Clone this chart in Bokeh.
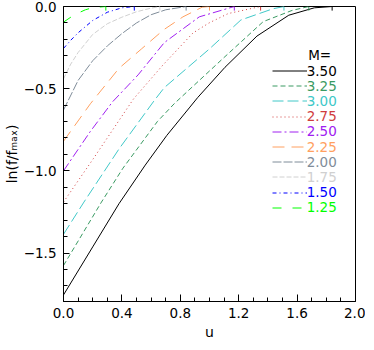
from bokeh.plotting import figure
from bokeh.models import (Range1d, FixedTicker, Legend, LegendItem, Label,
                          CustomJSTickFormatter)
from bokeh.embed import file_html
from bokeh.resources import INLINE

# ---------------- data ----------------
M_labels = ["3.50", "3.25", "3.00", "2.75", "2.50", "2.25", "2.00", "1.75", "1.50", "1.25"]
u_peak = [1.84, 1.68, 1.51, 1.35, 1.17, 1.00, 0.84, 0.66, 0.485, 0.29]

u_M350 = [0, 0.2, 0.38, 0.56, 0.708, 0.866, 0.92, 1.106, 1.325, 1.543, 1.718, 1.84]
y_M350 = [-1.755, -1.463, -1.2, -0.965, -0.784, -0.612, -0.553, -0.37, -0.18, -0.053, -0.008, 0.0]
u_M325 = [0, 0.26, 0.407, 0.643, 0.76, 1.106, 1.368, 1.565, 1.68]
y_M325 = [-1.576, -1.19, -0.984, -0.70, -0.59, -0.305, -0.092, -0.024, 0.0]
u_M300 = [0, 0.14, 0.38, 0.621, 0.69, 0.997, 1.215, 1.434, 1.51]
y_M300 = [-1.386, -1.19, -0.867, -0.573, -0.494, -0.26, -0.082, -0.014, 0.0]
u_M275 = [0, 0.205, 0.479, 0.68, 0.887, 0.997, 1.128, 1.35]
y_M275 = [-1.19, -0.925, -0.563, -0.357, -0.161, -0.10, -0.043, 0.0]
u_M250 = [0, 0.184, 0.336, 0.511, 0.69, 0.93, 1.17]
y_M250 = [-1.0, -0.76, -0.58, -0.416, -0.22, -0.063, 0.0]
u_M225 = [0, 0.184, 0.38, 0.533, 0.687, 0.818, 0.95, 1.0]
y_M225 = [-0.82, -0.592, -0.376, -0.259, -0.141, -0.063, -0.004, 0.0]
u_M200 = [0, 0.1, 0.2, 0.3, 0.4, 0.5, 0.6, 0.7, 0.84]
y_M200 = [-0.63, -0.45, -0.33, -0.24, -0.165, -0.10, -0.05, -0.02, 0.0]
u_M175 = [0, 0.05, 0.1, 0.2, 0.3, 0.4, 0.5, 0.6, 0.66]
y_M175 = [-0.44, -0.35, -0.28, -0.17, -0.105, -0.065, -0.032, -0.01, 0.0]
u_M150 = [0, 0.05, 0.1, 0.2, 0.3, 0.4, 0.485]
y_M150 = [-0.255, -0.205, -0.16, -0.085, -0.035, -0.008, 0.0]
u_M125 = [0, 0.05, 0.1, 0.15, 0.2, 0.29]
y_M125 = [-0.095, -0.065, -0.04, -0.02, -0.007, 0.0]

x_major_ticks = [0.0, 0.4, 0.8, 1.2, 1.6, 2.0]
x_minor_ticks = [0.1, 0.2, 0.3, 0.5, 0.6, 0.7, 0.9, 1.0, 1.1, 1.3, 1.4, 1.5, 1.7, 1.8, 1.9]
y_major_ticks = [-1.5, -1.0, -0.5, 0.0]
y_minor_ticks = [-1.7, -1.6, -1.4, -1.3, -1.2, -1.1, -0.9, -0.8, -0.7, -0.6, -0.4, -0.3, -0.2, -0.1]

# ---------------- styles ----------------
colors = ["#000000", "#3a9a62", "#40c8c8", "#d03c3c", "#a020f0",
          "#ffa060", "#7f8c99", "#d0d0d0", "#0000ff", "#00ff00"]
dashes = ["solid", "5 3", "11 4", "1 3", "9 3 2 3", "12 7", "9 2", "5 2", "4 3 1 3", "9 11"]
FONT = "DejaVu Sans"

us = [u_M350, u_M325, u_M300, u_M275, u_M250, u_M225, u_M200, u_M175, u_M150, u_M125]
ys = [y_M350, y_M325, y_M300, y_M275, y_M250, y_M225, y_M200, y_M175, y_M150, y_M125]

MB_L, MB_R, MB_T, MB_B = 55, 10, 6, 38
W, H = 365, 342

p = figure(width=W, height=H, output_backend="svg", toolbar_location=None,
           x_range=Range1d(0, 2.0), y_range=Range1d(-1.795, 0.0),
           min_border_left=MB_L, min_border_right=MB_R,
           min_border_top=MB_T, min_border_bottom=MB_B)
p.grid.visible = False
p.outline_line_color = "black"
p.outline_line_width = 1

renderers = []
for uu, yy, c, d in zip(us, ys, colors, dashes):
    r = p.line(uu, yy, line_color=c, line_dash=d, line_width=1)
    renderers.append(r)

tick_len = 0.025
p.segment(x0=u_peak, y0=[0.0] * len(u_peak), x1=u_peak, y1=[-tick_len] * len(u_peak),
          line_color=colors, line_width=1)

fmt = CustomJSTickFormatter(code="return tick.toFixed(1).replace('-', '\u2212');")
p.xaxis.ticker = FixedTicker(ticks=x_major_ticks, minor_ticks=x_minor_ticks)
p.yaxis.ticker = FixedTicker(ticks=y_major_ticks, minor_ticks=y_minor_ticks)
p.xaxis.formatter = fmt
p.yaxis.formatter = fmt
for ax in (p.xaxis[0], p.yaxis[0]):
    ax.major_tick_out = 0
    ax.minor_tick_out = 0
    ax.minor_tick_in = 4
    ax.axis_line_color = "black"
    ax.major_tick_line_color = "black"
    ax.minor_tick_line_color = "black"
    ax.major_label_text_font = FONT
    ax.major_label_text_font_size = "13.5px"
    ax.major_label_text_color = "black"
    ax.axis_label_text_font = FONT
    ax.axis_label_text_font_size = "14px"
    ax.axis_label_text_font_style = "normal"
    ax.axis_label_text_color = "black"
p.xaxis.major_tick_in = 7
p.yaxis.major_tick_in = 6
p.xaxis.major_label_standoff = 6
p.yaxis.major_label_standoff = 7
p.xaxis.axis_label = "u"
p.xaxis.axis_label_standoff = 3
p.yaxis.axis_label = "ln(f/f\u2098\u2090\u2093)"
p.yaxis.axis_label_standoff = 1

# legend: one small legend per M so every label keeps its own colour
frame_left_page = 8 + MB_L
frame_bottom_page = 8 + H - MB_B
row0, pitch = 82, 15.2
for i, (lab, c, r) in enumerate(zip(M_labels, colors, renderers)):
    yc = row0 + pitch * i
    leg = Legend(items=[LegendItem(label=lab, renderers=[r])],
                 location=(271.7 - frame_left_page, frame_bottom_page - (yc + 7.5)),
                 glyph_width=35, glyph_height=15, label_height=15, label_width=10,
                 label_standoff=0, padding=0, margin=0, spacing=0,
                 border_line_color=None, background_fill_alpha=0,
                 label_text_color=c, label_text_font=FONT,
                 label_text_font_size="13.5px", label_text_baseline="middle")
    p.add_layout(leg)

p.add_layout(Label(x=307.7 - frame_left_page, y=frame_bottom_page - 65.3,
                   x_units="screen", y_units="screen", text="M=",
                   text_font=FONT, text_font_size="13.5px", text_color="black",
                   text_baseline="middle", text_align="left"))

open("out.html", "w").write(file_html(p, INLINE))
